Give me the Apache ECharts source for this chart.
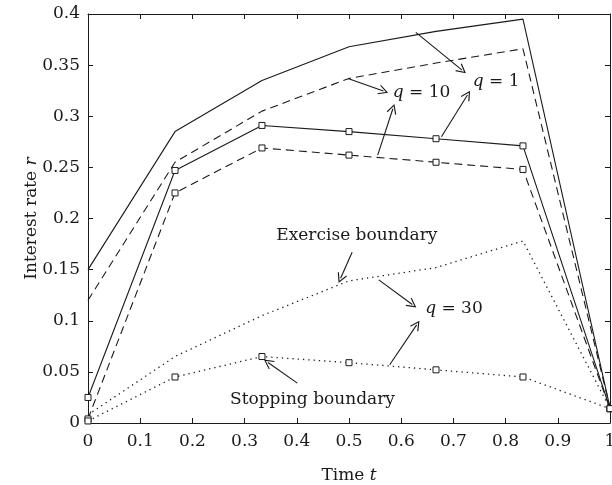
<!DOCTYPE html>
<html>
<head>
<meta charset="utf-8">
<script src="https://cdn.jsdelivr.net/npm/echarts@6/dist/echarts.min.js"></script>
<style>
html,body{margin:0;padding:0;background:#fff;}
#main{width:612px;height:485px;}
</style>
</head>
<body>
<div id="main"></div>
<script>
// ---- data ----
const timePoints = [0, 0.1667, 0.3333, 0.5, 0.6667, 0.8333, 1];
const exerciseQ1  = [0.150, 0.285, 0.335, 0.368, 0.383, 0.395, 0.015];
const exerciseQ10 = [0.120, 0.255, 0.305, 0.337, 0.352, 0.366, 0.015];
const stoppingQ1  = [0.025, 0.247, 0.291, 0.285, 0.278, 0.271, 0.014];
const stoppingQ10 = [0.004, 0.225, 0.269, 0.262, 0.255, 0.248, 0.014];
const exerciseQ30 = [0.008, 0.065, 0.105, 0.139, 0.152, 0.178, 0.014];
const stoppingQ30 = [0.002, 0.045, 0.065, 0.059, 0.052, 0.045, 0.014];
const xTicks = [0, 0.1, 0.2, 0.3, 0.4, 0.5, 0.6, 0.7, 0.8, 0.9, 1];
const yTicks = [0, 0.05, 0.1, 0.15, 0.2, 0.25, 0.3, 0.35, 0.4];

// annotation texts [x, y, label]
const annotTexts = [
  [0.782, 0.334, '{i|q} = 1'],
  [0.639, 0.323, '{i|q} = 10'],
  [0.701, 0.112, '{i|q} = 30'],
  [0.515, 0.183, 'Exercise boundary'],
  [0.430, 0.023, 'Stopping boundary']
];
// annotation arrows [x1, y1, x2, y2] (x2, y2 = arrow tip)
const annotArrows = [
  [0.628, 0.382, 0.724, 0.342],
  [0.498, 0.337, 0.575, 0.323],
  [0.555, 0.262, 0.587, 0.312],
  [0.677, 0.280, 0.732, 0.325],
  [0.506, 0.167, 0.480, 0.137],
  [0.557, 0.140, 0.629, 0.113],
  [0.578, 0.057, 0.635, 0.100],
  [0.401, 0.039, 0.337, 0.062]
];

const FONT = 'DejaVu Serif';
const FS = 17;
const INK = '#1a1a1a';
const ARROW = 10;
const pair = arr => timePoints.map((t, i) => [t, arr[i]]);

function lineSeries(name, arr, type, markers) {
  return {
    name, type: 'line', data: pair(arr),
    xAxisIndex: 0, yAxisIndex: 0,
    showSymbol: markers, symbol: 'rect', symbolSize: 6,
    itemStyle: {color: '#fff', borderColor: INK, borderWidth: 1},
    lineStyle: {color: INK, width: type === 'dotted' ? 1.3 : 1.1,
      type: type === 'solid' ? 'solid' : (type === 'dashed' ? [8, 5] : [1.3, 4])},
    animation: false, silent: true, z: 3
  };
}

const arrowPath = 'path://M5,0 L10,10 L9,10.7 L5,2.6 L1,10.7 L0,10 Z';

function mkAxisLine() { return {show: true, onZero: false, lineStyle: {color: INK, width: 1}}; }
function mkTick() { return {show: true, inside: true, length: 5, lineStyle: {color: INK, width: 1}}; }

const chart = echarts.init(document.getElementById('main'), null, {renderer: 'canvas'});
const series = [
  lineSeries('exercise q=1', exerciseQ1, 'solid', false),
  lineSeries('exercise q=10', exerciseQ10, 'dashed', false),
  lineSeries('stopping q=1', stoppingQ1, 'solid', true),
  lineSeries('stopping q=10', stoppingQ10, 'dashed', true),
  lineSeries('exercise q=30', exerciseQ30, 'dotted', false),
  lineSeries('stopping q=30', stoppingQ30, 'dotted', true)
];

function arrowData(list) {
  return list.map(a => [{coord: [a[0], a[1]]}, {coord: [a[2], a[3]]}]);
}

series.push({
  id: 'annot', type: 'scatter', data: [], animation: false, silent: true,
  markLine: {
    silent: true, animation: false,
    symbol: ['none', arrowPath], symbolSize: ARROW,
    label: {show: false},
    lineStyle: {color: INK, width: 1.1, type: 'solid'},
    data: arrowData(annotArrows)
  },
  markPoint: {
    silent: true, animation: false, symbol: 'circle', symbolSize: 1,
    itemStyle: {color: 'rgba(0,0,0,0)'},
    label: {show: true, position: 'inside', color: INK, fontFamily: FONT, fontSize: FS,
      rich: {i: {fontStyle: 'italic', fontFamily: FONT, fontSize: FS, color: INK}}},
    data: annotTexts.map(a => ({coord: [a[0], a[1]], label: {formatter: a[2]}}))
  }
});

const richName = {
  r: {fontFamily: FONT, fontSize: FS, color: INK},
  i: {fontFamily: FONT, fontSize: FS, fontStyle: 'italic', color: INK}
};

chart.setOption({
  backgroundColor: '#fff',
  grid: {left: 88, right: 2, top: 14, bottom: 62, containLabel: false, outerBoundsMode: 'none'},
  xAxis: [
    {
      type: 'value', min: 0, max: 1, interval: 0.1, position: 'bottom',
      axisLine: mkAxisLine(), axisTick: mkTick(), splitLine: {show: false},
      axisLabel: {color: INK, fontFamily: FONT, fontSize: FS, margin: 10,
        formatter: v => { const m = xTicks.find(t => Math.abs(t - v) < 1e-9); return m === undefined ? '' : String(m); }},
      name: '{r|Time }{i|t}', nameLocation: 'middle', nameGap: 44, nameMoveOverlap: false,
      nameTextStyle: {color: INK, fontFamily: FONT, fontSize: FS, rich: richName}
    },
    {
      type: 'value', min: 0, max: 1, interval: 0.1, position: 'top',
      axisLine: mkAxisLine(), axisTick: mkTick(), splitLine: {show: false},
      axisLabel: {show: false}
    }
  ],
  yAxis: [
    {
      type: 'value', min: 0, max: 0.4, interval: 0.05, position: 'left',
      axisLine: mkAxisLine(), axisTick: mkTick(), splitLine: {show: false},
      axisLabel: {color: INK, fontFamily: FONT, fontSize: FS, margin: 8,
        formatter: v => { const m = yTicks.find(t => Math.abs(t - v) < 1e-9); return m === undefined ? '' : String(m); }},
      name: '{r|Interest rate }{i|r}', nameLocation: 'middle', nameGap: 48, nameRotate: 90, nameMoveOverlap: false,
      nameTextStyle: {color: INK, fontFamily: FONT, fontSize: FS, rich: richName}
    },
    {
      type: 'value', min: 0, max: 0.4, interval: 0.05, position: 'right',
      axisLine: mkAxisLine(), axisTick: mkTick(), splitLine: {show: false},
      axisLabel: {show: false}
    }
  ],
  series: series
});

// pull each arrow end back by half the head size so the tip sits on the given point
const adjusted = annotArrows.map(a => {
  const p1 = chart.convertToPixel({gridIndex: 0}, [a[0], a[1]]);
  const p2 = chart.convertToPixel({gridIndex: 0}, [a[2], a[3]]);
  const dx = p2[0] - p1[0], dy = p2[1] - p1[1];
  const len = Math.sqrt(dx * dx + dy * dy);
  const k = (len - ARROW / 2) / len;
  const e = chart.convertFromPixel({gridIndex: 0}, [p1[0] + dx * k, p1[1] + dy * k]);
  return [a[0], a[1], e[0], e[1]];
});
chart.setOption({series: [{id: 'annot', markLine: {data: arrowData(adjusted)}}]});
</script>
</body>
</html>
